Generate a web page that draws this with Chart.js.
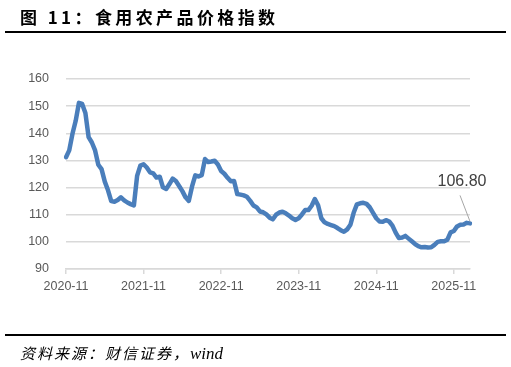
<!DOCTYPE html>
<html>
<head>
<meta charset="utf-8">
<script src="https://cdn.jsdelivr.net/npm/chart.js@4.4.1/dist/chart.umd.min.js"></script>
<style>
  html, body { margin: 0; padding: 0; background: #fff; }
  #wrap { position: relative; width: 511px; height: 367px; overflow: hidden; }
  #chart { position: absolute; left: 0; top: 0; }
  .title { position: absolute; left: 20px; top: 6px; font: 700 17px "Noto Sans CJK SC", sans-serif; letter-spacing: 3.4px; color: #000; line-height: 22px; }
  .rule { position: absolute; left: 5px; width: 501px; height: 2px; background: #000; }
  .source { position: absolute; left: 20px; top: 342px; font: italic 15px "Noto Sans CJK SC", serif; letter-spacing: 2px; color: #000; line-height: 22px; }
  .source span { font-family: "Liberation Serif", serif; font-size: 17px; letter-spacing: 0; }
</style>
</head>
<body>
<div id="wrap">
  <canvas id="chart" width="511" height="367"></canvas>
  <div class="title">图 11：食用农产品价格指数</div>
  <div class="rule" style="top:31px"></div>
  <div class="rule" style="top:334px"></div>
  <div class="source">资料来源：财信证券，<span>wind</span></div>
</div>
<script>
// months covered, two readings per month
const months = [
  '2020-11','2020-12',
  '2021-01','2021-02','2021-03','2021-04','2021-05','2021-06','2021-07','2021-08','2021-09','2021-10','2021-11','2021-12',
  '2022-01','2022-02','2022-03','2022-04','2022-05','2022-06','2022-07','2022-08','2022-09','2022-10','2022-11','2022-12',
  '2023-01','2023-02','2023-03','2023-04','2023-05','2023-06','2023-07','2023-08','2023-09','2023-10','2023-11','2023-12',
  '2024-01','2024-02','2024-03','2024-04','2024-05','2024-06','2024-07','2024-08','2024-09','2024-10','2024-11','2024-12',
  '2025-01','2025-02','2025-03','2025-04','2025-05','2025-06','2025-07','2025-08','2025-09','2025-10','2025-11','2025-12',
  '2026-01'
];
const tickLabels = ['2020-11','2021-11','2022-11','2023-11','2024-11','2025-11'];
const yTicks = [90, 100, 110, 120, 130, 140, 150, 160];
const priceIndex = [
  131.2,133.7,139.8,144.6,151.2,150.8,147.5,138.6,136.6,133.7,
  128.4,126.8,122.2,119.0,115.0,114.8,115.4,116.4,115.3,114.5,
  113.9,113.4,124.3,128.1,128.6,127.4,125.6,125.2,123.7,124.0,
  120.1,119.5,121.3,123.3,122.4,120.6,118.7,116.4,115.1,120.4,
  124.5,124.1,124.6,130.5,129.4,129.6,129.9,128.5,126.1,125.1,
  123.6,122.3,122.4,117.6,117.4,117.1,116.6,115.1,113.4,112.7,
  111.2,110.9,110.1,108.9,108.3,110.0,110.8,111.1,110.5,109.7,
  108.7,108.1,108.7,110.1,111.7,111.7,113.3,115.8,113.5,108.7,
  107.2,106.6,106.2,105.8,105.1,104.3,103.7,104.6,106.3,110.7,
  113.8,114.2,114.4,114.0,112.7,110.7,108.7,107.5,107.4,108.0,
  107.5,106.0,103.4,101.4,101.6,102.2,101.2,100.2,99.2,98.4,
  98.0,98.1,97.9,98.0,98.9,100.0,100.2,100.2,100.8,103.5,
  104.0,105.7,106.3,106.4,107.0,106.8
];
const lastLabel = '106.80';

const labels = months.flatMap(m => [m, m]);
const tickIdx = tickLabels.map(t => labels.indexOf(t));

// label + leader line for the last reading
const lastValuePlugin = {
  id: 'lastValue',
  afterDatasetsDraw(chart) {
    const pts = chart.getDatasetMeta(0).data;
    const p = pts[pts.length - 1];
    const ctx = chart.ctx;
    ctx.save();
    ctx.strokeStyle = '#a6a6a6';
    ctx.lineWidth = 1;
    ctx.beginPath();
    ctx.moveTo(p.x - 10, p.y - 28);
    ctx.lineTo(p.x, p.y - 2);
    ctx.stroke();
    ctx.fillStyle = '#404040';
    ctx.font = '16px "Liberation Sans", sans-serif';
    ctx.textAlign = 'center';
    ctx.textBaseline = 'middle';
    ctx.fillText(lastLabel, p.x - 8, p.y - 42);
    ctx.restore();
  }
};

new Chart(document.getElementById('chart'), {
  type: 'line',
  data: {
    labels,
    datasets: [{
      data: priceIndex,
      borderColor: '#4a7ebb',
      borderWidth: 4.5,
      pointRadius: 0,
      tension: 0,
      borderJoinStyle: 'round',
      borderCapStyle: 'round'
    }]
  },
  options: {
    responsive: false,
    animation: false,
    layout: { padding: { left: 0, right: 41, top: 79, bottom: 68 } },
    plugins: { legend: { display: false }, tooltip: { enabled: false } },
    scales: {
      x: {
        type: 'category',
        afterBuildTicks: s => { s.ticks = s.ticks.filter(t => tickIdx.includes(t.value)); },
        afterFit: s => { s.height = 30; },
        ticks: {
          autoSkip: false,
          maxRotation: 0,
          padding: 5,
          color: '#595959',
          font: { family: 'Liberation Sans', size: 12.5 },
          callback(v) { return this.getLabelForValue(v); }
        },
        grid: { drawOnChartArea: false, drawTicks: true, tickLength: 5, color: '#d9d9d9', lineWidth: 1.5 },
        border: { display: true, color: '#d9d9d9', width: 1.5 }
      },
      y: {
        min: yTicks[0],
        max: yTicks[yTicks.length - 1],
        afterFit: s => { s.width = 66; },
        afterBuildTicks: s => { s.ticks = yTicks.map(v => ({ value: v })); },
        ticks: {
          padding: 17,
          color: '#595959',
          font: { family: 'Liberation Sans', size: 12.5 }
        },
        grid: { color: '#d9d9d9', lineWidth: 1.5, drawTicks: false },
        border: { display: false }
      }
    }
  },
  plugins: [lastValuePlugin]
});
</script>
</body>
</html>
